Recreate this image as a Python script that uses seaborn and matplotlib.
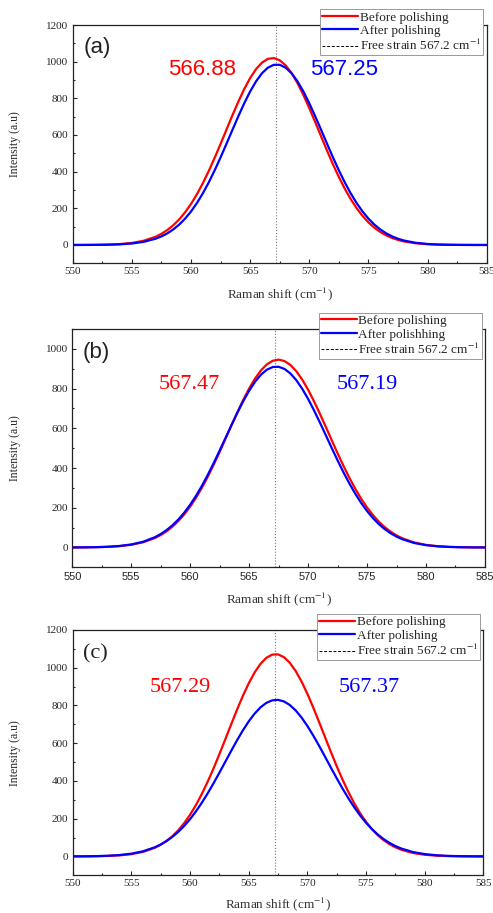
import pandas as pd
import matplotlib.pyplot as plt
from matplotlib.lines import Line2D
from matplotlib.ticker import MultipleLocator
import seaborn as sns


# Raman shift grid (cm-1), finer around the peak
shift = [550, 551, 552, 553, 554, 555, 556, 557,
         557.5, 558, 558.5, 559, 559.5, 560, 560.5, 561, 561.5, 562, 562.5, 563, 563.5,
         564, 564.5, 565, 565.5, 566, 566.5, 567, 567.5, 568, 568.5, 569, 569.5, 570,
         570.5, 571, 571.5, 572, 572.5, 573, 573.5, 574, 574.5, 575, 575.5, 576, 576.5,
         577, 577.5,
         578, 579, 580, 581, 582, 583, 584, 585]

# Intensities
before_a = [0.1, 0.3, 0.8, 2.1, 5.0, 11.1, 23.0, 44.7,
            60.8, 81.5, 107.5, 139.4, 178.1, 223.8, 276.7, 336.8, 403.5, 475.6, 551.5, 629.6, 707.3,
            781.9, 850.7, 910.8, 959.6, 995.0, 1015.3, 1019.5, 1007.5, 979.8, 937.7, 883.2, 818.6, 746.6,
            670.2, 592.0, 514.7, 440.3, 370.8, 307.1, 250.4, 200.9, 158.7, 123.3, 94.3, 71.0, 52.6,
            38.3, 27.5,
            19.4, 9.2, 4.1, 1.7, 0.7, 0.2, 0.1, 0.0]
after_a = [0.1, 0.2, 0.6, 1.5, 3.5, 8.0, 17.1, 34.0,
           46.8, 63.5, 84.7, 111.2, 143.7, 182.7, 228.7, 281.7, 341.4, 407.2, 478.0, 552.2, 627.7,
           702.1, 773.0, 837.5, 892.9, 937.0, 967.4, 983.0, 983.0, 967.4, 937.0, 892.9, 837.5, 773.0,
           702.1, 627.7, 552.2, 478.0, 407.2, 341.4, 281.7, 228.7, 182.7, 143.7, 111.2, 84.7, 63.5,
           46.8, 34.0,
           24.3, 11.8, 5.4, 2.3, 0.9, 0.3, 0.1, 0.0]

before_b = [0.2, 0.6, 1.4, 3.1, 6.7, 13.6, 26.1, 47.5,
            62.7, 81.8, 105.2, 133.5, 167.1, 206.3, 251.2, 301.8, 357.6, 418.0, 482.1, 548.3, 615.3,
            681.0, 743.6, 800.9, 850.9, 891.8, 922.0, 940.3, 946.0, 938.8, 919.0, 887.4, 845.3, 794.4,
            736.3, 673.3, 607.2, 540.3, 474.2, 410.6, 350.7, 295.4, 245.5, 201.3, 162.8, 129.8, 102.2,
            79.3, 60.7,
            45.9, 25.1, 13.0, 6.4, 3.0, 1.3, 0.5, 0.2]
after_b = [0.3, 0.7, 1.6, 3.6, 7.6, 15.2, 28.8, 51.7,
           67.9, 87.8, 112.3, 141.4, 175.8, 215.6, 260.9, 311.5, 366.8, 426.2, 488.6, 552.5, 616.5,
           678.6, 737.0, 789.6, 834.6, 870.3, 895.3, 908.8, 910.0, 899.0, 876.2, 842.5, 799.2, 748.0,
           690.6, 629.1, 565.4, 501.3, 438.5, 378.4, 322.2, 270.6, 224.2, 183.3, 147.9, 117.6, 92.4,
           71.5, 54.7,
           41.2, 22.5, 11.6, 5.7, 2.6, 1.2, 0.5, 0.2]

before_c = [0.1, 0.4, 1.0, 2.5, 5.6, 12.0, 24.2, 46.0,
            62.0, 82.3, 107.7, 138.8, 176.3, 220.6, 272.1, 330.5, 395.6, 466.3, 541.8, 620.0, 699.3,
            777.0, 850.4, 917.2, 974.6, 1020.2, 1052.3, 1069.3, 1070.6, 1056.0, 1026.3, 982.7, 927.1, 861.7,
            789.0, 711.8, 632.8, 554.2, 478.1, 406.5, 340.5, 281.0, 228.4, 183.0, 144.4, 112.2, 86.0,
            64.9, 48.3,
            35.4, 18.1, 8.8, 4.0, 1.7, 0.7, 0.3, 0.1]
after_c = [0.3, 0.7, 1.6, 3.5, 7.4, 14.6, 27.3, 48.4,
           63.3, 81.6, 103.8, 130.4, 161.5, 197.5, 238.5, 284.1, 334.0, 387.4, 443.5, 501.1, 558.7,
           614.9, 667.7, 715.5, 756.7, 789.8, 813.6, 827.0, 829.6, 821.4, 802.5, 773.7, 736.2, 691.3,
           640.7, 586.0, 528.9, 471.0, 414.1, 359.1, 307.5, 259.8, 216.6, 178.2, 144.8, 116.0, 91.7,
           71.6, 55.1,
           41.9, 23.3, 12.3, 6.1, 2.9, 1.3, 0.6, 0.2]

# Peak positions written on each panel
peak_before = ["566.88", "567.47", "567.29"]
peak_after = ["567.25", "567.19", "567.37"]
panel_names = ["(a)", "(b)", "(c)"]
before_name = "Before polishing"
after_names = ["After polishing", "After polishhing", "After polishing"]
free_strain = 567.2

befores = [before_a, before_b, before_c]
afters = [after_a, after_b, after_c]

# Layout / style per panel
panels = [
    dict(rect=[0.1475, 0.7116, 0.8398, 0.2610], ylim=(-100, 1200), yticks=range(0, 1201, 200),
         leg=(0.991, 1.066), name_xy=(550.9, 1080), name_font="Liberation Sans",
         lab_y=955, lab_x=(560.9, 572.9), lab_font="Liberation Sans", xtick_font="Liberation Serif",
         xlab_y=-0.095),
    dict(rect=[0.1467, 0.3786, 0.8370, 0.2610], ylim=(-100, 1100), yticks=range(0, 1001, 200),
         leg=(0.992, 1.068), name_xy=(550.9, 981), name_font="Liberation Sans",
         lab_y=819, lab_x=(559.9, 575.0), lab_font="Liberation Serif", xtick_font="Liberation Sans",
         xlab_y=-0.095),
    dict(rect=[0.1475, 0.0413, 0.8330, 0.2687], ylim=(-100, 1200), yticks=range(0, 1201, 200),
         leg=(0.992, 1.064), name_xy=(550.9, 1073), name_font="Liberation Serif",
         lab_y=896, lab_x=(559.2, 575.3), lab_font="Liberation Serif", xtick_font="Liberation Serif",
         xlab_y=-0.082),
]

sns.set_style("ticks", {"xtick.direction": "in", "ytick.direction": "in"})
plt.rcParams["font.family"] = ["Liberation Serif", "DejaVu Serif"]
plt.rcParams["mathtext.fontset"] = "stix"

fig = plt.figure(figsize=(4.93, 9.13), dpi=100)

for i, p in enumerate(panels):
    ax = fig.add_axes(p["rect"])
    df = pd.DataFrame({
        "shift": shift + shift,
        "intensity": befores[i] + afters[i],
        "series": [before_name] * len(shift) + [after_names[i]] * len(shift),
    })
    sns.lineplot(data=df, x="shift", y="intensity", hue="series",
                 palette={before_name: "#ff0000", after_names[i]: "#0000ff"},
                 lw=1.6, ax=ax, legend=False)

    # free strain reference line
    ax.axvline(free_strain, color="#777777", ls=":", lw=0.8, zorder=1)

    ax.set_xlim(550, 585)
    ax.set_ylim(*p["ylim"])
    ax.set_xticks(range(550, 586, 5))
    ax.set_yticks(list(p["yticks"]))
    ax.xaxis.set_minor_locator(MultipleLocator(2.5))
    ax.yaxis.set_minor_locator(MultipleLocator(100))
    ax.tick_params(which="major", length=3, width=0.8, labelsize=8, pad=3)
    ax.tick_params(which="minor", length=1.7, width=0.8)
    for lbl in ax.get_xticklabels():
        lbl.set_fontfamily(p["xtick_font"])
    for s in ax.spines.values():
        s.set_linewidth(0.9)
        s.set_color("#222222")

    ax.set_xlabel("Raman shift (cm$^{-1}$)", fontsize=9.5, color="#333333")
    ax.set_ylabel("Intensity (a.u)", fontsize=8.5)
    ax.xaxis.set_label_coords(0.5, p["xlab_y"])
    ax.yaxis.set_label_coords(-0.125, 0.5)

    # panel name and peak labels
    ax.text(p["name_xy"][0], p["name_xy"][1], panel_names[i], fontsize=16,
            family=p["name_font"], va="center", ha="left", color="#222222")
    ax.text(p["lab_x"][0], p["lab_y"], peak_before[i], fontsize=16, color="#ff0000",
            family=p["lab_font"], ha="center", va="center")
    ax.text(p["lab_x"][1], p["lab_y"], peak_after[i], fontsize=16, color="#0000ff",
            family=p["lab_font"], ha="center", va="center")

    handles = [
        Line2D([], [], color="#ff0000", lw=1.6),
        Line2D([], [], color="#0000ff", lw=1.6),
        Line2D([], [], color="black", lw=0.7, ls=(0, (3, 1.8))),
    ]
    labels = [before_name, after_names[i], "Free strain 567.2 cm$^{-1}$"]
    leg = ax.legend(handles, labels, loc="upper right", bbox_to_anchor=p["leg"],
                    fontsize=9.5, frameon=True, fancybox=False, framealpha=1,
                    edgecolor="#999999", borderpad=0.15, labelspacing=0.1,
                    handlelength=2.7, handletextpad=0.15, borderaxespad=0)
    leg.get_frame().set_linewidth(0.7)

plt.savefig("out.png", dpi=100)
